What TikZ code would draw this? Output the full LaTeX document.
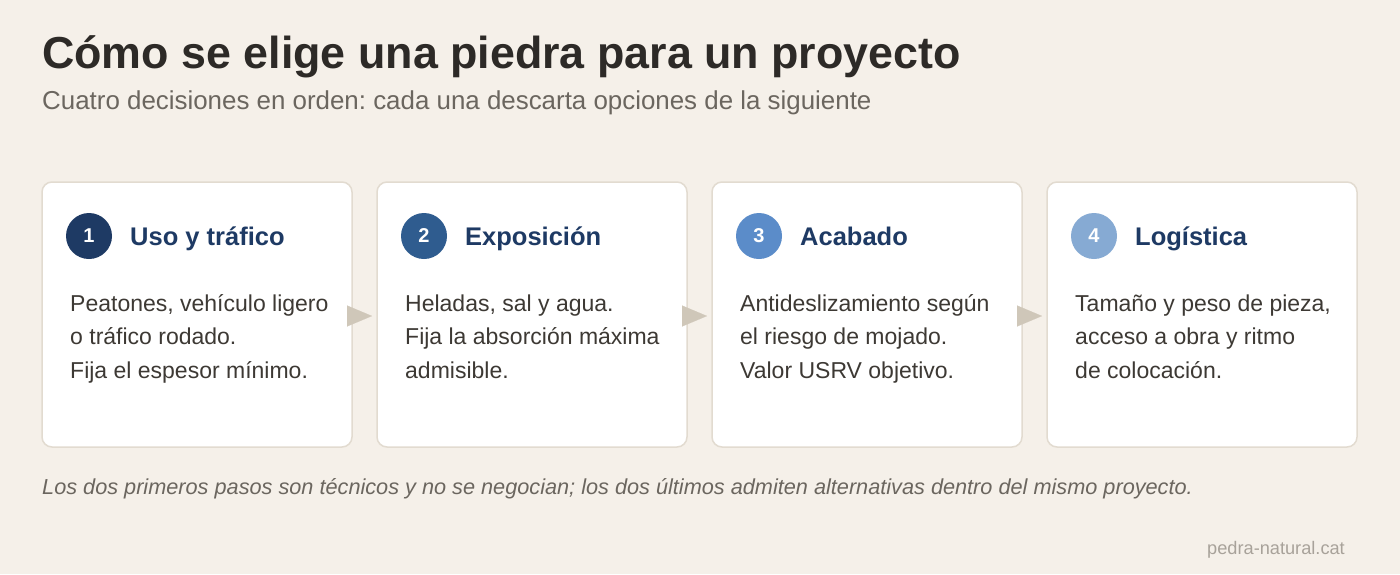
\documentclass[tikz,border=0pt]{standalone}
\usepackage{fontspec}
\setmainfont{Liberation Sans}
\usetikzlibrary{positioning,arrows.meta}
\definecolor{bgpaper}{HTML}{F5F0E9}
\definecolor{cardline}{HTML}{E2DBD0}
\definecolor{inkdark}{HTML}{2D2A27}
\definecolor{inkgrey}{HTML}{6B665F}
\definecolor{inkbody}{HTML}{3D3934}
\definecolor{navy}{HTML}{1E3A64}
\definecolor{stepA}{HTML}{1E3A64}
\definecolor{stepB}{HTML}{2F5C8F}
\definecolor{stepC}{HTML}{5B8CC9}
\definecolor{stepD}{HTML}{86AAD3}
\definecolor{flowgrey}{HTML}{CFC7B9}
\definecolor{markgrey}{HTML}{A8A29A}
\frenchspacing
\begin{document}
\begin{tikzpicture}
[x=1pt,y=-1pt,%
  card/.style={draw=cardline,line width=1.5pt,fill=white,rounded corners=10pt,
    minimum width=310pt,minimum height=265pt,inner sep=0pt,outer sep=0pt},%
  badge/.style={circle,minimum size=46pt,inner sep=0pt,text=white,
    font=\fontsize{20}{24}\selectfont\bfseries},%
  cardtitle/.style={anchor=base west,inner sep=0pt,text=navy,
    font=\fontsize{25.5}{30}\selectfont\bfseries},%
  cardtext/.style={anchor=base west,inner sep=0pt,align=left,text=inkbody,
    font=\fontsize{23}{33.5}\selectfont},%
  flow/.style={draw=flowgrey,line width=0.1pt,
    -{Triangle[length=25pt,width=21pt,fill=flowgrey]}}]
\fill[bgpaper] (0,0) rectangle (1400,574);
\useasboundingbox (0,0) rectangle (1400,574);
% title and subtitle
\node (title) [anchor=base west,inner sep=0pt,text=inkdark,
  font=\fontsize{44.8}{50}\selectfont\bfseries] at (42,68)
  {Cómo se elige una piedra para un proyecto};
\node (subtitle) [anchor=base west,inner sep=0pt,text=inkgrey,
  font=\fontsize{25.9}{30}\selectfont] at (42,109)
  {Cuatro decisiones en orden: cada una descarta opciones de la siguiente};
% the four cards
\node (card1) [card] at (197,314.5) {};
\node (card2) [card,right=25pt of card1] {};
\node (card3) [card,right=25pt of card2] {};
\node (card4) [card,right=25pt of card3] {};
\foreach \i/\col/\ttl/\txt in {%
  1/stepA/Uso y tráfico/{Peatones, vehículo ligero\\o tráfico rodado.\\Fija el espesor mínimo.},%
  2/stepB/Exposición/{Heladas, sal y agua.\\Fija la absorción máxima\\admisible.},%
  3/stepC/Acabado/{Antideslizamiento según\\el riesgo de mojado.\\Valor USRV objetivo.},%
  4/stepD/Logística/{Tamaño y peso de pieza,\\acceso a obra y ritmo\\de colocación.}}
{
  \node (badge\i) [badge,fill=\col] at ([xshift=47pt,yshift=-54pt]card\i.north west) {\i};
  \node (head\i) [cardtitle] at ([xshift=88pt,yshift=-63pt]card\i.north west) {\ttl};
  \node (body\i) [cardtext] at ([xshift=28pt,yshift=-196pt]card\i.north west) {\txt};
}
% arrows between cards
\foreach \a/\b in {1/2,2/3,3/4}
  \draw[flow] ([xshift=-5pt,yshift=-1.5pt]card\a.east) -- ([xshift=-5pt,yshift=-1.5pt]card\b.west);
% notes
\node (note) [anchor=base west,inner sep=0pt,text=inkgrey,
  font=\fontsize{21.7}{26}\selectfont\itshape] at (42,494)
  {Los dos primeros pasos son técnicos y no se negocian; los dos últimos admiten alternativas dentro del mismo proyecto.};
\node (mark) [anchor=base east,inner sep=0pt,text=markgrey,
  font=\fontsize{18.2}{22}\selectfont] at (1345,554) {pedra-natural.cat};
\end{tikzpicture}
\end{document}
